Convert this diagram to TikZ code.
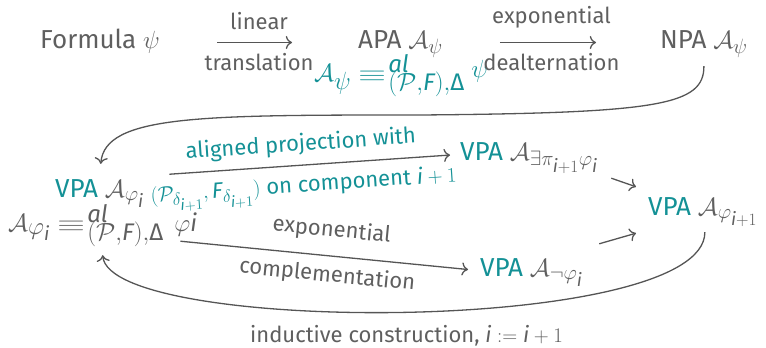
\documentclass[tikz,border=0pt]{standalone}
\usepackage{amsmath}
\usepackage{graphicx}
\usepackage{fontspec}
\setmainfont{Fira Sans}
\usetikzlibrary{arrows.meta}
\DeclareMathSizes{26}{26}{20}{18}
\DeclareMathSizes{22}{22}{17}{15}
\DeclareMathSizes{30}{30}{24}{19}
\definecolor{tx}{RGB}{95,95,95}
\definecolor{ar}{RGB}{85,85,85}
\definecolor{tl}{RGB}{20,145,150}
\newcommand{\ital}[1]{\textit{#1}}
\newcommand{\bigeq}{\mathrel{\scalebox{1.45}[0.9]{$\equiv$}\mathord{\kern2pt\rlap{\raisebox{9pt}{$\scriptstyle\ital{al}$}}\raisebox{-9pt}{$\scriptstyle(\mathcal{P},\ital{F}),\text{Δ}$}}}}
\begin{document}
\begin{tikzpicture}[x=1pt,y=-1pt,
  big/.style={font=\fontsize{26}{31}\selectfont, text=tx, inner sep=2pt, text height=19pt, text depth=8pt, anchor=base west},
  eqn/.style={font=\fontsize{30}{34}\selectfont, inner sep=2pt, text height=20pt, text depth=8pt, anchor=base west},
  lab/.style={font=\fontsize{22}{26}\selectfont, text=tx, inner sep=2pt},
  arr/.style={draw=ar, line width=1.3pt, -{To[scale=1.4]}}]
\useasboundingbox (0,0) rectangle (766,348);
% nodes
\node[big] (f) at (38,48) {Formula $\psi$};
\node[big] (apa) at (356,48) {APA $\mathcal{A}_{\psi}$};
\node[big] (npa) at (658,48) {NPA $\mathcal{A}_{\psi}$};
\node[eqn, text=tl] (eq1) at (312,81) {$\mathcal{A}_{\psi} \bigeq \raisebox{4pt}{$\scriptstyle\psi$}$};
\node[big] (vpa) at (53,197) {\textcolor{tl}{VPA} $\mathcal{A}_{\varphi_{\ital{i}}}$};
\node[eqn, text=tx] (eq2) at (6,231) {$\mathcal{A}_{\varphi_{\ital{i}}} \bigeq\, {\scriptstyle\varphi\ital{i}}$};
\node[big] (ex) at (458,160) {\textcolor{tl}{VPA} $\mathcal{A}_{\exists\pi_{\ital{i}+1}\varphi_{\ital{i}}}$};
\node[big] (phi1) at (646,215) {\textcolor{tl}{VPA} $\mathcal{A}_{\varphi_{\ital{i}+1}}$};
\node[big] (neg) at (478,276) {\textcolor{tl}{VPA} $\mathcal{A}_{\neg\varphi_{\ital{i}}}$};
% top row arrows
\draw[arr, shorten <=55pt, shorten >=64pt] (f) -- (apa)
  node[lab, midway, above=10pt] {linear}
  node[lab, midway, below=8pt] {translation};
\draw[arr, shorten <=55pt, shorten >=62pt] (apa) -- (npa)
  node[lab, midway, above=12pt] {exponential}
  node[lab, midway, below=8pt] {dealternation};
% curve from NPA down to VPA
\draw[arr, shorten >=12pt] ([shift={(0,8)}]npa.south) .. controls (704,105) and (660,113) .. (420,115)
  .. controls (200,115) and (105,115) .. (vpa.north);
% aligned projection
\draw[arr, shorten <=23pt, shorten >=8pt] (vpa.north east) -- (ex.west)
  node[lab, midway, above=7pt, sloped, text=tl] {aligned projection with}
  node[lab, midway, below=7pt, sloped, text=tl] {$(\mathcal{P}_{\delta_{\ital{i}+1}},\ital{F}_{\delta_{\ital{i}+1}})$ on component $\ital{i}+1$};
% complementation
\draw[arr, shorten >=10pt] ([xshift=-19pt]eq2.south east) -- (neg.west)
  node[lab, midway, above=12pt, sloped] {exponential}
  node[lab, midway, below=6pt, sloped] {complementation};
% short arrows
\draw[arr] ([shift={(11,8)}]ex.south east) -- ([shift={(-10,-7)}]phi1.north west);
\draw[arr] ([shift={(14,-11)}]neg.north east) -- ([shift={(-10,8)}]phi1.south west);
% inductive curve
\draw[arr] ([shift={(2,7)}]phi1.south) .. controls (705,335) and (110,335) .. ([shift={(0,14)}]eq2.south)
  node[lab, pos=0.5, below=11pt] {inductive construction, $\ital{i} := \ital{i}+1$};
\end{tikzpicture}
\end{document}
